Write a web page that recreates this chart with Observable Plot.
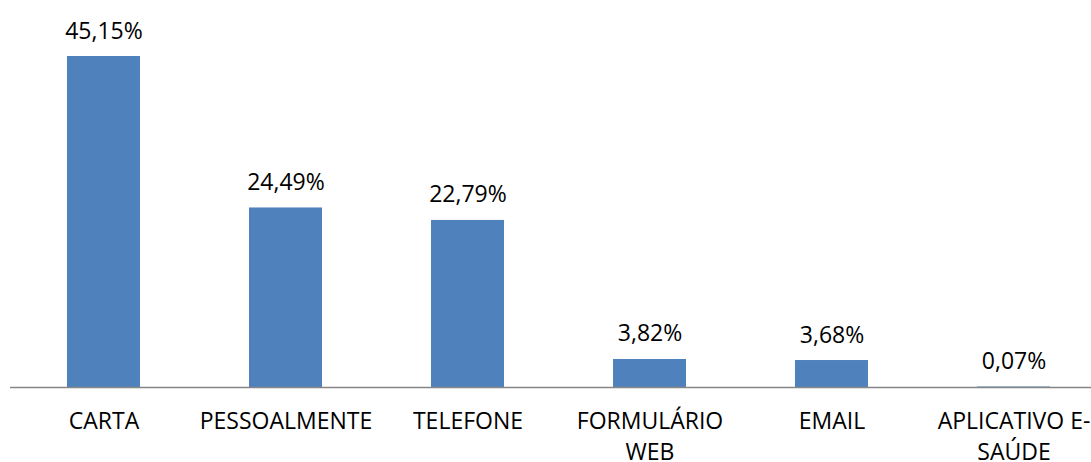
<!DOCTYPE html>
<html>
<head>
<meta charset="utf-8">
<script src="https://cdn.jsdelivr.net/npm/d3@7"></script>
<script src="https://cdn.jsdelivr.net/npm/@observablehq/plot@0.6"></script>
<style>
  html, body { margin: 0; padding: 0; background: #fff; }
  #chart svg { display: block; }
</style>
</head>
<body>
<div id="chart"></div>
<script>
const categories = ["CARTA", "PESSOALMENTE", "TELEFONE", "FORMULÁRIO WEB", "EMAIL", "APLICATIVO E-SAÚDE"];
const tickLabels = ["CARTA", "PESSOALMENTE", "TELEFONE", "FORMULÁRIO\nWEB", "EMAIL", "APLICATIVO E-\nSAÚDE"];
const values = [45.15, 24.49, 22.79, 3.82, 3.68, 0.07];

const data = categories.map((c, i) => ({category: c, value: values[i]}));
const fmt = v => v.toFixed(2).replace(".", ",") + "%";
const labelOf = new Map(categories.map((c, i) => [c, tickLabels[i]]));

const chart = Plot.plot({
  width: 1091,
  height: 462,
  marginLeft: 10,
  marginRight: 0,
  marginTop: 20,
  marginBottom: 75,
  style: {fontFamily: "'Open Sans', sans-serif", fontSize: "23px", color: "#000", background: "#fff"},
  x: {domain: categories, range: [11, 1105], paddingInner: 0.6, paddingOuter: 0.3, label: null},
  y: {domain: [0, 50], range: [387, 387 - 50 * 7.331], axis: null},
  marks: [
    Plot.barY(data, {x: "category", y: "value", fill: "#4F81BD"}),
    Plot.ruleY([0], {stroke: "#868686", strokeWidth: 1.5}),
    Plot.text(data, {x: "category", y: "value", text: d => fmt(d.value), lineAnchor: "bottom", dy: -18, fontSize: 23, fill: "#000"}),
    Plot.axisX({tickSize: 0, tickPadding: 19, fontSize: 23, tickFormat: c => labelOf.get(c), lineHeight: 1.35, label: null, fill: "#000"})
  ]
});
document.getElementById("chart").appendChild(chart);
</script>
</body>
</html>
